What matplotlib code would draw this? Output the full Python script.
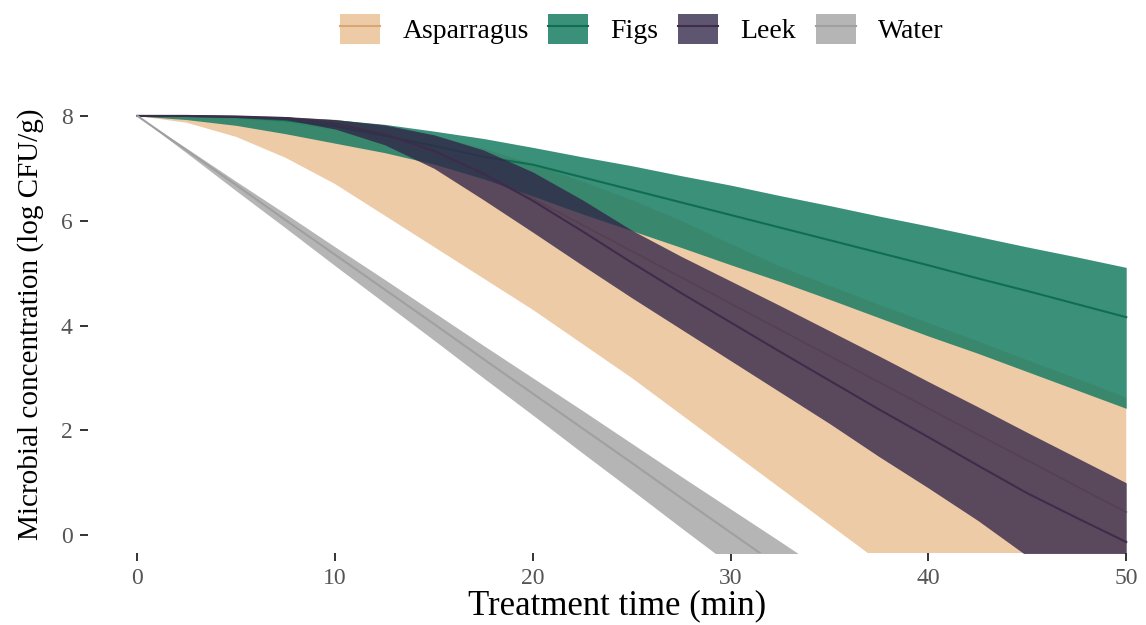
import matplotlib.pyplot as plt
from matplotlib.lines import Line2D
from matplotlib.patches import Patch

plt.rcParams['font.family'] = ['Liberation Serif', 'DejaVu Serif']

# treatment time (min)
time = [0, 2.5, 5, 7.5, 10, 12.5, 15, 17.5, 20, 22.5, 25, 27.5, 30,
        32.5, 35, 37.5, 40, 42.5, 45, 47.5, 50]
time_water = [0, 2.5, 5, 7.5, 10, 12.5, 15, 17.5, 20, 22.5, 25, 27.5,
              30, 32.5, 35]

# log CFU/g: median and prediction band for each product
asp_mid = [8, 7.99, 7.96, 7.9, 7.75, 7.55, 7.25, 6.85, 6.42, 5.92, 5.42,
           4.92, 4.42, 3.92, 3.42, 2.92, 2.42, 1.92, 1.43, 0.93, 0.44]
asp_low = [8, 7.87, 7.6, 7.2, 6.7, 6.1, 5.5, 4.9, 4.3, 3.65, 3.0, 2.3,
           1.6, 0.9, 0.2, -0.5, -1.2, -1.9, -2.6, -3.3, -4.0]
asp_up = [8, 8.0, 7.99, 7.97, 7.93, 7.8, 7.62, 7.38, 7.08, 6.75, 6.4,
          6.0, 5.56, 5.13, 4.76, 4.4, 4.05, 3.7, 3.34, 2.99, 2.63]

figs_mid = [8, 8.0, 7.98, 7.92, 7.8, 7.62, 7.43, 7.22, 7.07, 6.83, 6.59,
            6.35, 6.11, 5.87, 5.63, 5.39, 5.15, 4.9, 4.66, 4.41, 4.16]
figs_low = [8, 7.93, 7.82, 7.66, 7.48, 7.3, 7.08, 6.8, 6.47, 6.13, 5.81,
            5.49, 5.16, 4.84, 4.5, 4.15, 3.8, 3.47, 3.12, 2.77, 2.42]
figs_up = [8, 8.0, 8.0, 7.98, 7.93, 7.84, 7.71, 7.57, 7.4, 7.22, 7.05,
           6.86, 6.68, 6.48, 6.29, 6.09, 5.9, 5.7, 5.5, 5.31, 5.11]

leek_mid = [8, 8.0, 7.99, 7.96, 7.85, 7.65, 7.33, 6.9, 6.38, 5.8, 5.2,
            4.62, 4.06, 3.5, 2.95, 2.4, 1.87, 1.33, 0.8, 0.33, -0.13]
leek_low = [8, 7.99, 7.97, 7.93, 7.75, 7.45, 7.0, 6.4, 5.78, 5.15, 4.53,
            3.93, 3.33, 2.73, 2.13, 1.5, 0.9, 0.28, -0.4, -1.0, -1.6]
leek_up = [8, 8.0, 8.0, 7.99, 7.93, 7.83, 7.64, 7.35, 6.93, 6.4, 5.82,
           5.32, 4.85, 4.38, 3.9, 3.42, 2.93, 2.45, 1.96, 1.48, 1.0]

water_mid = [8, 7.34, 6.68, 6.01, 5.35, 4.69, 4.03, 3.36, 2.7, 2.04, 1.38,
             0.71, 0.05, -0.61, -1.28]
water_low = [8, 7.29, 6.57, 5.86, 5.14, 4.43, 3.72, 3.0, 2.29, 1.57, 0.86,
             0.14, -0.57, -1.28, -2.0]
water_up = [8, 7.38, 6.75, 6.13, 5.5, 4.88, 4.25, 3.62, 3.0, 2.38, 1.75,
            1.12, 0.5, -0.12, -0.75]

series = [
    ("Asparragus", time, asp_mid, asp_low, asp_up, "#EECBA7", 1.0, "#D9A676"),
    ("Figs", time, figs_mid, figs_low, figs_up, "#197D63", 0.85, "#0F6E52"),
    ("Leek", time, leek_mid, leek_low, leek_up, "#312549", 0.78, "#3F2B4A"),
    ("Water", time_water, water_mid, water_low, water_up, "#B5B5B5", 1.0, "#A0A0A0"),
]

fig = plt.figure(figsize=(11.46, 6.25), dpi=100)
ax = fig.add_axes([0.0768, 0.1152, 0.9232, 0.7328])

handles = []
labels = []
for i, (name, t, mid, low, up, fill, alpha, lcol) in enumerate(series):
    # each ribbon goes down together with its own median line
    ax.fill_between(t, low, up, color=fill, alpha=alpha, linewidth=0,
                    zorder=1 + 2 * i)
    ax.plot(t, mid, color=lcol, lw=1.5, zorder=2 + 2 * i)
    handles.append((Patch(facecolor=fill, alpha=alpha, edgecolor="none"),
                    Line2D([], [], color=lcol, lw=1.5)))
    labels.append(name)

ax.set_xlim(-2.5, 51.0)
ax.set_ylim(-0.34, 8.4)
ax.set_xticks([0, 10, 20, 30, 40, 50])
ax.set_yticks([0, 2, 4, 6, 8])
for s in ax.spines.values():
    s.set_visible(False)
ax.tick_params(length=6, width=1.4, color="#333333", labelcolor="#555555",
               labelsize=17, pad=5)
ax.set_xlabel("Treatment time (min)", fontsize=25, labelpad=0)
ax.set_ylabel("Microbial concentration (log CFU/g)", fontsize=21, labelpad=12)

fig.legend(handles, labels, loc="center", bbox_to_anchor=(0.56, 0.953),
           ncol=4, frameon=False, fontsize=20, handlelength=1.45,
           handleheight=1.25, handletextpad=0.8, columnspacing=0.7)

fig.savefig("out.png", dpi=100)
